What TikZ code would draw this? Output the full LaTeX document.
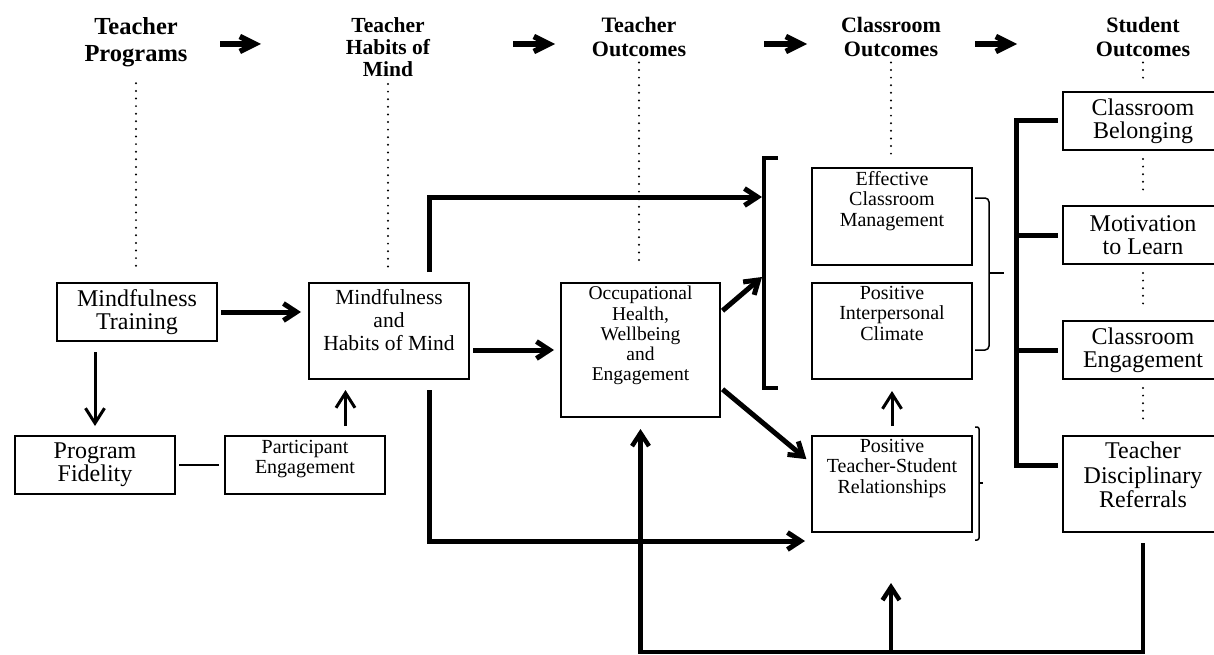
\documentclass[tikz,border=0pt]{standalone}
\usepackage{fontspec}
\setmainfont{Liberation Serif}
\usetikzlibrary{arrows.meta, calc, positioning}

\begin{document}
\begin{tikzpicture}[x=1pt, y=-1pt,
    hdr/.style={font=\fontsize{22}{24}\selectfont\bfseries, align=center, inner sep=0pt, anchor=north},
    box/.style={draw, line width=2pt, minimum width=160pt, minimum height=58pt, inner sep=0pt, align=center, font=\fontsize{24}{23}\selectfont},
    tallbox/.style={box, minimum height=96pt},
    toptxt/.style={align=center, inner sep=0pt},
    small/.style={font=\fontsize{20}{20.5}\selectfont},
    thk/.style={line width=5pt},
    thkarrow/.style={thk, -{Straight Barb[length=13pt, width=17pt]}},
    thinarrow/.style={line width=3pt, -{Straight Barb[length=15pt, width=19pt]}},
    hdarrow/.style={line width=5.5pt, -{Straight Barb[length=15pt, width=15pt]}},
    dotline/.style={line width=2.2pt, line cap=round, dash pattern=on 0pt off 7.6pt},
    brk/.style={line width=1.5pt, rounded corners=4pt}]
    \useasboundingbox (0,0) rectangle (1214,655);
    \clip (0,0) rectangle (1214,655);

    % Headers
    \node[hdr, font=\fontsize{24.5}{27}\selectfont\bfseries] (tp) at (136,17.5) {Teacher\\Programs};
    \node[hdr, font=\fontsize{21.5}{22}\selectfont\bfseries] (thm) at (388,17.5) {Teacher\\Habits of\\Mind};
    \node[hdr] (tout) at (639,17.5) {Teacher\\Outcomes};
    \node[hdr] (cout) at (891,17.5) {Classroom\\Outcomes};
    \node[hdr] (sout) at (1143,17.5) {Student\\Outcomes};
    \foreach \i/\a/\b in {1/220/261, 2/513/555, 3/764/807, 4/975/1017} {
        \coordinate (hs\i) at (\a,44);
        \coordinate (he\i) at (\b,44);
        \draw[hdarrow] (hs\i) -- (he\i);
    }

    % Nodes
    \node[box] (mt) at (137,312) {Mindfulness\\Training};
    \node[box] (pf) at (95,465) {Program\\Fidelity};
    \node[box] (pe) at (305,465) {};
    \node[toptxt, small, below=5pt of pe.north] (petxt) {Participant\\Engagement};
    \node[tallbox] (mhm) at (389,331) {};
    \node[toptxt, font=\fontsize{21.5}{23}\selectfont, below=7pt of mhm.north] (mhmtxt) {Mindfulness\\and\\Habits of Mind};
    \node[box, minimum width=159pt, minimum height=134pt] (oh) at (640.5,350) {};
    \node[toptxt, font=\fontsize{19.5}{20.3}\selectfont, below=4pt of oh.north] (ohtxt) {Occupational\\Health,\\Wellbeing\\and\\Engagement};
    \node[tallbox, minimum height=97pt] (ecm) at (892,216.5) {};
    \node[toptxt, small, below=4pt of ecm.north] (ecmtxt) {Effective\\Classroom\\Management};
    \node[tallbox] (pic) at (892,331) {};
    \node[toptxt, small, below=4pt of pic.north] (pictxt) {Positive\\Interpersonal\\Climate};
    \node[tallbox] (ptsr) at (892,484) {};
    \node[toptxt, small, below=4pt of ptsr.north] (ptsrtxt) {Positive\\Teacher-Student\\Relationships};
    \node[box] (cb) at (1143,121) {Classroom\\Belonging};
    \node[box] (ml) at (1143,235) {Motivation\\to Learn};
    \node[box] (ce) at (1143,350) {Classroom\\Engagement};
    \node[tallbox] (tdr) at (1143,484) {};
    \node[toptxt, font=\fontsize{24}{24.5}\selectfont, below=7pt of tdr.north] (tdrtxt) {Teacher\\Disciplinary\\Referrals};

    % Dotted guides
    \draw[dotline, shorten <=16pt, shorten >=11pt] (tp.south) -- (tp.south |- mt.north);
    \draw[dotline, shorten <=7pt, shorten >=11pt] (thm.south) -- (thm.south |- mhm.north);
    \draw[dotline, shorten <=5pt, shorten >=16pt] (tout.south) -- (tout.south |- oh.north);
    \draw[dotline, shorten <=5pt, shorten >=11pt] (cout.south) -- (cout.south |- ecm.north);
    \draw[dotline, shorten <=5pt, shorten >=12pt] (sout.south) -- (cb.north);
    \foreach \a/\b in {cb/ml, ml/ce, ce/tdr}
        \draw[dotline, shorten <=8pt, shorten >=11pt] (\a.south) -- (\b.north);

    % Coordinates
    \coordinate (pein) at ($(pe.north)!0.5!(pe.north east)$);
    \coordinate (mhmtop) at ($(mhm.north)!0.5!(mhm.north east)$);
    \coordinate (mhmbot) at ($(mhm.south)!0.5!(mhm.south east)$);
    \coordinate (brin1) at (762,197);
    \coordinate (brin2) at (762,277);
    \coordinate (ptsrin) at ([yshift=-8pt]ptsr.south west);
    \coordinate (base) at (891,652);
    \coordinate (spine) at (1017,0);

    % Arrows
    \draw[thkarrow, shorten <=3pt, shorten >=7pt] (mt.east) -- (mt.east -| mhm.west);
    \draw[thinarrow, shorten <=10pt, shorten >=9pt] (pf.north |- mt.south) -- (pf.north);
    \draw[line width=2.5pt, shorten <=3pt, shorten >=5pt] (pf.east) -- (pe.west);
    \draw[thinarrow, shorten <=9pt, shorten >=10pt] (pein) -- (pein |- mhm.south);
    \draw[thkarrow, shorten <=3pt, shorten >=6pt] (mhm.east |- oh.west) -- (oh.west);
    \draw[thkarrow, shorten <=10pt] (mhmtop) |- (brin1);
    \draw[thkarrow, shorten <=2pt] ([yshift=-30pt]oh.north east) -- (brin2);
    \draw[thkarrow, shorten <=10pt, shorten >=6pt] (mhmbot) |- (ptsrin);
    \draw[thkarrow, shorten <=2pt, shorten >=6pt] ([yshift=30pt]oh.south east) -- ([yshift=-28pt]ptsr.north west);
    \draw[thinarrow, shorten <=9pt, shorten >=11pt] (ptsr.north) -- (pic.south);

    % Feedback from referrals
    \draw[thkarrow, line width=4.5pt, shorten <=10pt, shorten >=11pt] (tdr.south) |- (base) -| (oh.south);
    \draw[thkarrow, line width=4.5pt, shorten >=50pt] (base) -- (base |- ptsr.south);

    % Brackets
    \draw[line width=4pt] (778,158) -- (764,158) -- (764,388) -- (778,388);
    \draw[brk] (975,198) -| (989,350) -- (975,350);
    \draw[line width=1.5pt] (989,273) -- (1004,273);
    \draw[brk, rounded corners=2pt] (975,427) -| (979,540) -- (975,540);
    \draw[line width=1.5pt] (979,483) -- (983,483);
    \draw[thk] ([xshift=-4pt]cb.west) -| ([xshift=-46pt, yshift=-30pt]tdr.north west) -- ([xshift=-4pt, yshift=-30pt]tdr.north west);
    \foreach \b in {ml, ce}
        \draw[thk] (spine |- \b.west) -- ([xshift=-4pt]\b.west);
\end{tikzpicture}
\end{document}
